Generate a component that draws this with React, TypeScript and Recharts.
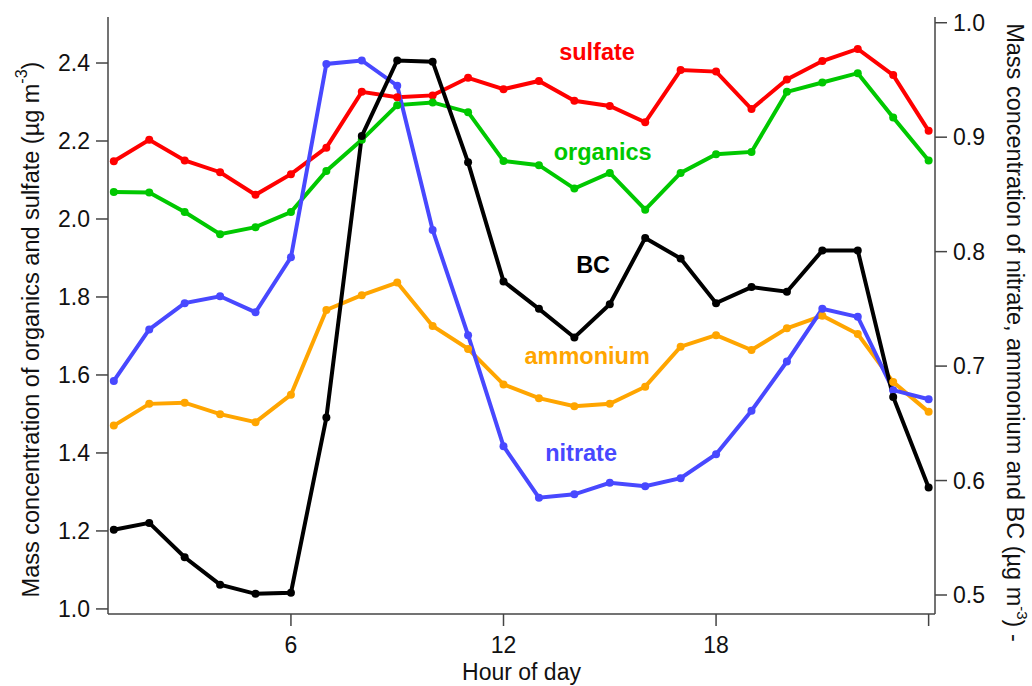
import React from 'react';
import { LineChart, Line, XAxis, YAxis, ReferenceDot } from 'recharts';

// hour of day, 1..24
const hours = [1, 2, 3, 4, 5, 6, 7, 8, 9, 10, 11, 12, 13, 14, 15, 16, 17, 18, 19, 20, 21, 22, 23, 24];

// left axis (organics, sulfate)
const sulfate = [2.148, 2.203, 2.150, 2.120, 2.062, 2.115, 2.183, 2.326, 2.312, 2.317, 2.362, 2.333, 2.354, 2.303, 2.290, 2.248, 2.382, 2.378, 2.282, 2.358, 2.405, 2.436, 2.369, 2.226];
const organics = [2.069, 2.068, 2.018, 1.961, 1.979, 2.018, 2.123, 2.203, 2.292, 2.299, 2.274, 2.149, 2.138, 2.078, 2.118, 2.024, 2.118, 2.166, 2.172, 2.326, 2.350, 2.374, 2.260, 2.150];

// right axis (nitrate, ammonium, BC)
const nitrate = [0.687, 0.732, 0.755, 0.761, 0.747, 0.795, 0.964, 0.967, 0.945, 0.819, 0.727, 0.630, 0.585, 0.588, 0.598, 0.595, 0.602, 0.623, 0.661, 0.704, 0.750, 0.743, 0.679, 0.671];
const ammonium = [0.648, 0.667, 0.668, 0.658, 0.651, 0.675, 0.749, 0.762, 0.773, 0.735, 0.715, 0.684, 0.672, 0.665, 0.667, 0.682, 0.717, 0.727, 0.714, 0.733, 0.744, 0.728, 0.686, 0.660];
const bc = [0.557, 0.563, 0.533, 0.509, 0.501, 0.502, 0.655, 0.901, 0.967, 0.966, 0.878, 0.774, 0.750, 0.725, 0.754, 0.812, 0.794, 0.755, 0.769, 0.765, 0.801, 0.801, 0.673, 0.594];

const xTicks = [6, 12, 18, 24];
const leftTicks = [1.0, 1.2, 1.4, 1.6, 1.8, 2.0, 2.2, 2.4];
const rightTicks = [0.5, 0.6, 0.7, 0.8, 0.9, 1.0];

const data = hours.map((h, i) => ({
  hour: h,
  sulfate: sulfate[i],
  organics: organics[i],
  nitrate: nitrate[i],
  ammonium: ammonium[i],
  bc: bc[i],
}));

const FONT = '"Liberation Sans", Arial, sans-serif';
const AXIS = '#444';

const COLORS = {
  sulfate: '#ff0000',
  organics: '#00c800',
  nitrate: '#4848ff',
  ammonium: '#ffa500',
  bc: '#000000',
};

// in-plot series names: [text, hour, value, axis, color]
const seriesLabels: [string, number, number, string, string][] = [
  ['sulfate', 14.64, 2.428, 'left', COLORS.sulfate],
  ['organics', 14.8, 2.172, 'left', COLORS.organics],
  ['BC', 14.53, 0.789, 'right', COLORS.bc],
  ['ammonium', 14.36, 0.709, 'right', COLORS.ammonium],
  ['nitrate', 14.19, 0.624, 'right', COLORS.nitrate],
];

const LeftTitle = (props: any) => {
  const { viewBox } = props;
  const x = viewBox.x + 31;
  const y = viewBox.y + viewBox.height / 2 + 14;
  return (
    <text x={x} y={y} transform={`rotate(-90, ${x}, ${y})`} textAnchor="middle" dominantBaseline="central"
      fontFamily={FONT} fontSize={23.5} fill="#111">
      Mass concentration of organics and sulfate (µg m
      <tspan dy={-10} fontSize={16}>-3</tspan>
      <tspan dy={10}>)</tspan>
    </text>
  );
};

const RightTitle = (props: any) => {
  const { viewBox } = props;
  const x = viewBox.x + 80;
  const y = viewBox.y + viewBox.height / 2 + 17;
  return (
    <text x={x} y={y} transform={`rotate(90, ${x}, ${y})`} textAnchor="middle" dominantBaseline="central"
      fontFamily={FONT} fontSize={23.5} fill="#111">
      Mass concentration of nitrate, ammonium and BC (µg m
      <tspan dy={-8} fontSize={15}>-3</tspan>
      <tspan dy={8}>) -</tspan>
    </text>
  );
};

const tickStyle = { fill: '#111', fontSize: 23, fontFamily: FONT };

export default function App() {
  return (
    <div style={{ position: 'absolute', left: 0, top: 0, width: 1032, height: 686, background: '#fff' }}>
      <LineChart width={1032} height={686} data={data} margin={{ top: 17, right: 0, bottom: 0, left: 0 }}>
        <XAxis
          dataKey="hour"
          type="number"
          domain={[0.836, 24.18]}
          ticks={xTicks}
          allowDataOverflow
          height={72}
          tickSize={12}
          tickMargin={11}
          stroke={AXIS}
          strokeWidth={1.5}
          tick={tickStyle}
          tickFormatter={(v: number) => (v === 24 ? '' : String(v))}
          label={{ value: 'Hour of day', position: 'insideBottom', offset: 6, fill: '#111', fontSize: 23, fontFamily: FONT }}
        />
        {/* top frame line */}
        <XAxis xAxisId="top" orientation="top" dataKey="hour" type="number" domain={[0.836, 24.18]}
          height={0} tick={false} tickLine={false} stroke={AXIS} strokeWidth={1.5} />
        <YAxis
          yAxisId="left"
          domain={[0.987, 2.518]}
          ticks={leftTicks}
          allowDataOverflow
          width={108}
          tickSize={12}
          tickMargin={6}
          stroke={AXIS}
          strokeWidth={1.5}
          tick={tickStyle}
          tickFormatter={(v: number) => v.toFixed(1)}
          label={<LeftTitle />}
        />
        <YAxis
          yAxisId="right"
          orientation="right"
          domain={[0.4834, 1.005]}
          ticks={rightTicks}
          allowDataOverflow
          width={97}
          tickSize={12}
          tickMargin={6}
          stroke={AXIS}
          strokeWidth={1.5}
          tick={tickStyle}
          tickFormatter={(v: number) => v.toFixed(1)}
          label={<RightTitle />}
        />

        <Line yAxisId="left" dataKey="sulfate" stroke={COLORS.sulfate} strokeWidth={4}
          dot={{ r: 4, fill: COLORS.sulfate, stroke: 'none' }} isAnimationActive={false} />
        <Line yAxisId="left" dataKey="organics" stroke={COLORS.organics} strokeWidth={4}
          dot={{ r: 4, fill: COLORS.organics, stroke: 'none' }} isAnimationActive={false} />
        <Line yAxisId="right" dataKey="ammonium" stroke={COLORS.ammonium} strokeWidth={4}
          dot={{ r: 4, fill: COLORS.ammonium, stroke: 'none' }} isAnimationActive={false} />
        <Line yAxisId="right" dataKey="nitrate" stroke={COLORS.nitrate} strokeWidth={4}
          dot={{ r: 4, fill: COLORS.nitrate, stroke: 'none' }} isAnimationActive={false} />
        <Line yAxisId="right" dataKey="bc" stroke={COLORS.bc} strokeWidth={4}
          dot={{ r: 4, fill: COLORS.bc, stroke: 'none' }} isAnimationActive={false} />

        {seriesLabels.map(([text, h, v, axis, color]) => (
          <ReferenceDot
            key={text}
            x={h}
            y={v}
            yAxisId={axis}
            r={0}
            fill="none"
            stroke="none"
            label={{ value: text, position: 'center', fill: color, fontSize: 23.5, fontWeight: 'bold', fontFamily: FONT }}
          />
        ))}
      </LineChart>
    </div>
  );
}
